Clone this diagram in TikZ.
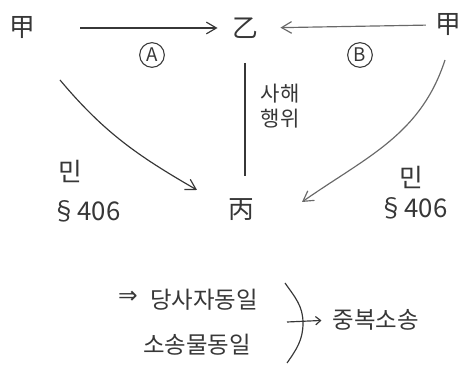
\documentclass[tikz,border=0pt]{standalone}
\usepackage{fontspec}
\setmainfont{Noto Sans CJK KR}
\newfontfamily\arrowfont{DejaVu Sans}
\usetikzlibrary{arrows.meta, positioning}
\definecolor{inkgray}{RGB}{55, 55, 55}
\definecolor{paleink}{RGB}{105, 105, 105}
\tikzset{
    party/.style={font=\fontsize{22}{24}\selectfont, text=inkgray, inner sep=2pt},
    note/.style={font=\fontsize{20}{22}\selectfont, text=inkgray, inner sep=1pt},
    marker/.style={circle, draw=inkgray, line width=0.9pt, minimum size=0.74cm, inner sep=0pt, font=\fontsize{16}{18}\selectfont, text=inkgray},
    link/.style={draw, -{Straight Barb[length=3mm, width=3.5mm]}, inkgray, line width=1pt}
}

\begin{document}
\begin{tikzpicture}[
    x=0.03cm, y=0.03cm,
    law/.style={font=\fontsize{22}{24}\selectfont, text=inkgray, inner sep=1pt},
    smalllink/.style={draw, -{Straight Barb[length=1.5mm, width=2.5mm]}, inkgray, line width=1pt}
]
    \useasboundingbox (0,0) rectangle (463,365);

    % parties
    \node[party] (jeftL) at (22,337) {甲};
    \node[party] (eul) at (245,337) {乙};
    \node[party] (jeftR) at (448,340) {甲};
    \node[party] (byeong) at (241,155) {丙};

    \node[marker] (circA) at (152,310) {A};
    \node[marker] (circB) at (360,310) {B};

    \draw[link, shorten <=1.29cm, shorten >=0.36cm] (jeftL.east) -- (eul.west);
    \draw[link, paleink, shorten <=0.2cm, shorten >=0.6cm] (jeftR.west) -- (eul.east);
    \draw[inkgray, line width=1pt, shorten <=0.66cm, shorten >=0.6cm] (eul.south) -- (eul.south |- byeong.north);
    \node[note, align=left, font=\fontsize{18}{21}\selectfont] (fraud) at (280,259) {사해\\행위};

    % curves down to the beneficiary
    \coordinate (startL) at ([shift={(38,-52)}]jeftL.center);
    \coordinate (tipL) at ([shift={(-44,20)}]byeong.center);
    \coordinate (startR) at ([shift={(-3,-35)}]jeftR.center);
    \coordinate (tipR) at ([shift={(61,8)}]byeong.center);
    \draw[link] (startL) to[out=-50, in=150] (tipL);
    \draw[link, paleink] (startR) to[out=-108, in=35] (tipR);

    \node[law] (minL) at (70,194) {민};
    \node[law] (lawL) at (86,154) {§406};
    \node[law] (minR) at (411,188) {민};
    \node[law] (lawR) at (413,157) {§406};

    % conclusion
    \node[note, font=\arrowfont\fontsize{20}{22}\selectfont] (implies) at (128,68) {⇒};
    \node[note] (party) at (204,65) {당사자동일};
    \node[note] (claim) at (197,20) {소송물동일};
    \draw[inkgray, line width=1pt] (285,82) to[out=-55, in=90] (303,42) to[out=-90, in=55] (287,2);
    \coordinate (brace) at (287,43);
    \node[note] (dup) at (376,45) {중복소송};
    \draw[smalllink, shorten >=0.3cm] (brace) -- (dup.west);

\end{tikzpicture}
\end{document}
